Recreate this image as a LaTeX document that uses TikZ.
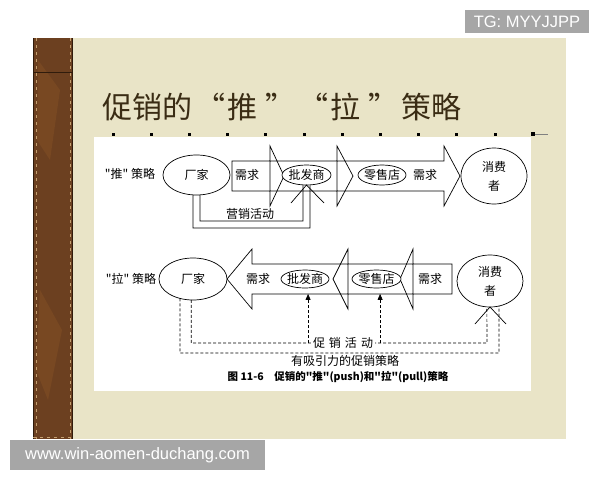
\documentclass[tikz,border=0pt]{standalone}
\usepackage{fontspec}
\usepackage{tikz}
\newfontfamily\cjk{Noto Sans CJK SC}
\newfontfamily\wmfont{Liberation Sans}
\usetikzlibrary{shapes.geometric}
\usetikzlibrary{arrows.meta}

\definecolor{slidebg}{RGB}{233,228,199}
\definecolor{wood}{RGB}{108,64,32}
\definecolor{wooddark}{RGB}{48,28,12}
\definecolor{woodlight}{RGB}{196,160,112}
\definecolor{woodpatch}{RGB}{120,72,34}
\definecolor{titlecol}{RGB}{58,44,20}
\definecolor{wmgray}{RGB}{166,166,166}

\begin{document}
\begin{tikzpicture}[x=1pt, y=-1pt,
        oval/.style={draw, ellipse, fill=white, line width=0.7pt, inner xsep=-4pt, inner ysep=0pt, outer sep=0pt, font=\cjk\fontsize{12}{19}\selectfont},
        lbl/.style={inner sep=0pt, font=\cjk\fontsize{12}{14}\selectfont},
        blockarrow/.style={draw, line width=0.7pt},
        dashline/.style={line width=0.7pt, dash pattern=on 3pt off 2pt},
        wmbox/.style={fill=wmgray, text=white, inner sep=0pt, font=\wmfont\fontsize{16.5}{18}\selectfont}]

        \useasboundingbox (0,0) rectangle (600,480);
        \fill[white] (0,0) rectangle (600,480);

        % slide and wooden strip
        \fill[slidebg] (33,38) rectangle (566,439);
        \fill[wood] (33,38) rectangle (73,439);
        \fill[woodpatch] (38,60) -- (60,90) -- (50,160) -- (37,140) -- cycle;
        \fill[woodpatch] (40,290) -- (62,330) -- (48,400) -- (36,370) -- cycle;
        \draw[wooddark, line width=1.2pt] (33.6,38) -- (33.6,439) (72.4,38) -- (72.4,439);
        \draw[wooddark, line width=0.8pt] (33,72) -- (73,72);
        \draw[woodlight, dash pattern=on 3pt off 4pt] (35.8,38) -- (35.8,439) (70.2,38) -- (70.2,439) (33,437) -- (73,437);

        % title
        \node[anchor=west, inner sep=0pt, text=titlecol, font=\cjk\fontsize{30}{34}\selectfont] (title) at (102,107)
            {促销的\hspace{3pt}“\hspace{2pt}推\hspace{8pt}”\hspace{3pt}“\hspace{2pt}拉\hspace{8pt}”\hspace{3pt}策略};

        \foreach \i in {0,...,10}
            \fill (111.5+38.2*\i,132.5) rectangle ++(3,3);
        \fill (531,132) rectangle ++(4,4);
        \draw[gray] (535,134) -- (548,134);

        % white panel
        \fill[white] (94,137) rectangle (531,391);

        % "push" row
        \foreach \xa/\xb/\xc in {232/270/284, 270/337/353, 337/444/460}
            \draw[blockarrow] (\xa,161) -- (\xb,161) -- (\xb,146) -- (\xc,176) -- (\xb,206) -- (\xb,191) -- (\xa,191) -- cycle;

        \node[lbl] (tuilbl) at (130,174) {"推" 策略};
        \node[oval, minimum width=67pt, minimum height=40pt] (chang1) at (196.5,175) {厂家};
        \node[oval, minimum width=49pt, minimum height=20pt] (pifa1) at (306.5,175) {批发商};
        \node[oval, minimum width=48pt, minimum height=20pt] (lingshou1) at (382,175) {零售店};
        \node[oval, minimum width=66pt, minimum height=56pt, align=center] (xiaofei1) at (494,176) {消费\\者};
        \node[lbl] (xuqiu1) at (247,175) {需求};
        \node[lbl] (xuqiu2) at (425,175) {需求};

        \draw[line width=0.7pt] (chang1.-80) |- (303,221) -- (pifa1.-110);
        \draw[line width=0.7pt] (chang1.-100) |- (310,228) -- (pifa1.-70);
        \draw[line width=0.7pt] (291,203) -- (pifa1.south) -- (324,203);
        \node[lbl] (yingxiao) at (250,214) {营销活动};

        % "pull" row
        \foreach \xa/\xb/\xc in {348/252/227, 413/348/333, 452/413/400}
            \draw[blockarrow] (\xa,264) -- (\xb,264) -- (\xb,249) -- (\xc,279) -- (\xb,309) -- (\xb,294) -- (\xa,294) -- cycle;

        \node[lbl] (lalbl) at (131,279) {"拉" 策略};
        \node[oval, minimum width=68pt, minimum height=42pt] (chang2) at (193,279) {厂家};
        \node[oval, minimum width=48pt, minimum height=18pt] (pifa2) at (305,279) {批发商};
        \node[oval, minimum width=49pt, minimum height=18pt] (lingshou2) at (376.5,279) {零售店};
        \node[oval, minimum width=66pt, minimum height=52pt, align=center] (xiaofei2) at (490,281) {消费\\者};
        \node[lbl] (xuqiu3) at (258,279) {需求};
        \node[lbl] (xuqiu4) at (430,279) {需求};

        \draw[dashline] (chang2.-95) |- (487,343) -- (xiaofei2.-97);
        \draw[dashline] (chang2.-124) |- (499,353) -- (xiaofei2.-70);
        \draw[line width=0.7pt] (475,324) -- (xiaofei2.south) -- (506,324);
        \draw[dashline, -{Triangle[length=6pt,width=5pt]}, shorten >=6pt] (pifa2.-71 |- 0,343) -- (pifa2.-71);
        \draw[dashline, -{Triangle[length=6pt,width=5pt]}, shorten >=6pt] (lingshou2.-68 |- 0,343) -- (lingshou2.-68);

        \node[lbl, fill=white, inner xsep=2pt, inner ysep=1pt] (cuxiao) at (343,343) {促\,\,销\,\,活\,\,动};
        \node[lbl] (youxiyin) at (345,361) {有吸引力的促销策略};
        \node[lbl, font=\cjk\bfseries\fontsize{10.5}{12}\selectfont] (caption) at (338,377) {图 11-6\quad 促销的"推"(push)和"拉"(pull)策略};

        % watermarks
        \node[wmbox, minimum width=124pt, minimum height=23pt] (tgbox) at (527,21.5) {TG: MYYJJPP};
        \node[wmbox, minimum width=255pt, minimum height=30pt] (wwwbox) at (137.5,455) {www.win-aomen-duchang.com};

    \end{tikzpicture}
\end{document}
